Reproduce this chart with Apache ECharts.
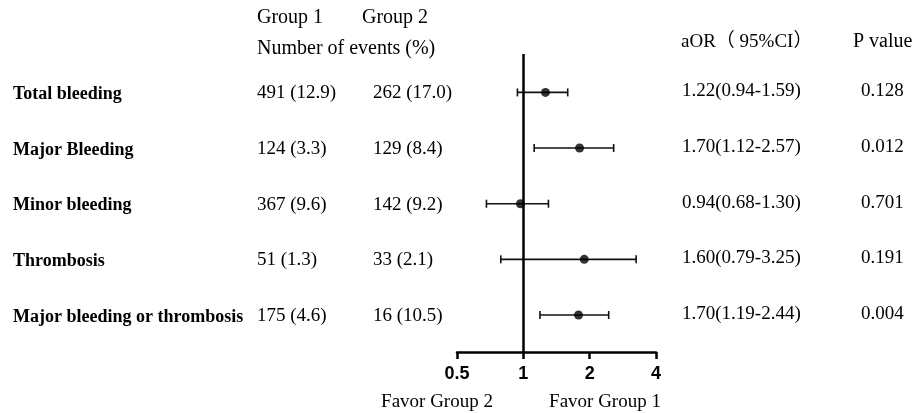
<!DOCTYPE html>
<html>
<head>
<meta charset="utf-8">
<script src="https://cdn.jsdelivr.net/npm/echarts@6/dist/echarts.min.js"></script>
<style>
html,body{margin:0;padding:0;background:#fff;}
#chart{width:921px;height:413px;}
</style>
</head>
<body>
<div id="chart"></div>
<script>
// ---- data ----
const categories = ['Total bleeding', 'Major Bleeding', 'Minor bleeding', 'Thrombosis', 'Major bleeding or thrombosis'];
const group1Events = ['491 (12.9)', '124 (3.3)', '367 (9.6)', '51 (1.3)', '175 (4.6)'];
const group2Events = ['262 (17.0)', '129 (8.4)', '142 (9.2)', '33 (2.1)', '16 (10.5)'];
const aorLabels = ['1.22(0.94-1.59)', '1.70(1.12-2.57)', '0.94(0.68-1.30)', '1.60(0.79-3.25)', '1.70(1.19-2.44)'];
const pValues = ['0.128', '0.012', '0.701', '0.191', '0.004'];
const pointEstimate = [1.26, 1.80, 0.97, 1.89, 1.78];
const ciLower = [0.94, 1.12, 0.68, 0.79, 1.19];
const ciUpper = [1.59, 2.57, 1.30, 3.25, 2.44];
const xTicks = [0.5, 1, 2, 4];
const headerGroups = ['Group 1', 'Group 2'];
const headerEvents = 'Number of events (%)';
const headerAor = 'aOR（ 95%CI）';
const headerP = 'P value';
const favorLabels = ['Favor Group 2', 'Favor Group 1'];

const chart = echarts.init(document.getElementById('chart'), null, {renderer: 'canvas'});
const SERIF = '"Liberation Serif", "Times New Roman", "Noto Sans CJK SC", serif';
const rowIdx = categories.map((_, i) => i + 1);

function txt(x, y, text, opt) {
  return {
    type: 'text',
    x: x, y: y,
    style: Object.assign({
      text: text,
      fill: '#000',
      font: '19px ' + SERIF,
      align: 'left',
      verticalAlign: 'middle'
    }, opt || {})
  };
}

const option = {
  backgroundColor: '#fff',
  animation: false,
  grid: {left: 457, right: 265, top: 54, bottom: 61},
  xAxis: {
    type: 'log',
    logBase: 2,
    min: xTicks[0],
    max: xTicks[xTicks.length - 1],
    splitLine: {show: false},
    minorTick: {show: false},
    axisLine: {show: true, lineStyle: {color: '#000', width: 2.5}},
    axisTick: {show: true, length: 7, lineStyle: {color: '#000', width: 2.5}},
    axisLabel: {
      margin: 13,
      color: '#000',
      fontFamily: '"Liberation Sans", Arial, sans-serif',
      fontWeight: 'bold',
      fontSize: 18,
      formatter: v => String(+v.toFixed(2))
    }
  },
  yAxis: {
    type: 'value',
    inverse: true,
    min: 0.31,
    max: 5.665,
    show: false
  },
  graphic: [
    txt(257, 18, headerGroups[0], {font: '20px ' + SERIF}),
    txt(362, 18, headerGroups[1], {font: '20px ' + SERIF}),
    txt(257, 49, headerEvents, {font: '20px ' + SERIF}),
    txt(681, 42, headerAor, {font: '19px ' + SERIF}),
    txt(853, 42, headerP, {font: '20px ' + SERIF}),
    txt(437, 402, favorLabels[0], {align: 'center'}),
    txt(605, 402, favorLabels[1], {align: 'center'})
  ],
  series: [
    {
      // table text, placed on the row positions of the y axis
      type: 'custom',
      silent: true,
      clip: false,
      data: rowIdx.map(r => [1, r]),
      encode: {x: 0, y: 1},
      renderItem: function (params, api) {
        const i = params.dataIndex;
        const y = api.coord([1, api.value(1)])[1];
        return {
          type: 'group',
          children: [
            txt(13, y + 2, categories[i], {font: 'bold 18px ' + SERIF}),
            txt(257, y + 1, group1Events[i]),
            txt(373, y + 1, group2Events[i]),
            txt(682, y - 1, aorLabels[i]),
            txt(861, y - 1, pValues[i])
          ]
        };
      },
      z: 1
    },
    {
      // confidence interval whiskers
      type: 'custom',
      silent: true,
      data: rowIdx.map((r, i) => [ciLower[i], ciUpper[i], r]),
      encode: {x: [0, 1], y: 2},
      renderItem: function (params, api) {
        const p1 = api.coord([api.value(0), api.value(2)]);
        const p2 = api.coord([api.value(1), api.value(2)]);
        const h = 4;
        const st = {stroke: '#111', lineWidth: 1.6};
        return {
          type: 'group',
          children: [
            {type: 'line', shape: {x1: p1[0], y1: p1[1], x2: p2[0], y2: p2[1]}, style: st},
            {type: 'line', shape: {x1: p1[0], y1: p1[1] - h, x2: p1[0], y2: p1[1] + h}, style: st},
            {type: 'line', shape: {x1: p2[0], y1: p2[1] - h, x2: p2[0], y2: p2[1] + h}, style: st}
          ]
        };
      },
      z: 2
    },
    {
      type: 'scatter',
      silent: true,
      symbol: 'circle',
      symbolSize: 9,
      itemStyle: {color: '#000'},
      data: rowIdx.map((r, i) => [pointEstimate[i], r]),
      markLine: {
        silent: true,
        symbol: 'none',
        label: {show: false},
        lineStyle: {color: '#000', width: 2.5, type: 'solid'},
        data: [{xAxis: 1}]
      },
      z: 3
    }
  ]
};
chart.setOption(option);
</script>
</body>
</html>
